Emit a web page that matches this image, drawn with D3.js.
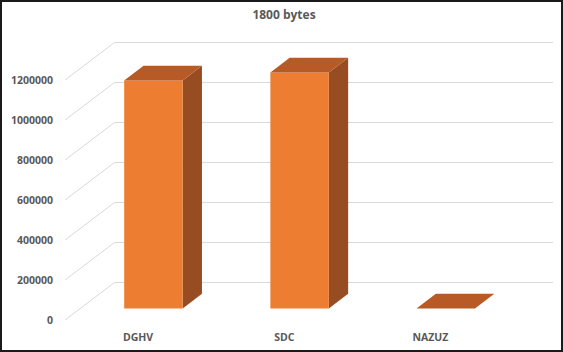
<!DOCTYPE html>
<html>
<head>
<meta charset="utf-8">
<script src="https://cdn.jsdelivr.net/npm/d3@7"></script>
<style>
  body { margin: 0; background: #fff; }
  svg text { font-family: "Open Sans", "Liberation Sans", sans-serif; font-weight: 700; fill: #595959; }
</style>
</head>
<body>
<div id="chart"></div>
<script>
// --- Data ---
const categories = ["DGHV", "SDC", "NAZUZ"];
const values = [1140000, 1180000, 0];
const tickValues = [0, 200000, 400000, 600000, 800000, 1000000, 1200000];
const title = "1800 bytes";

const width = 563, height = 352;

// --- 3D projection params ---
const depthX = 49.5, depthY = -37.5;   // full floor depth offset
const barFront = 0.31, barBack = 0.70; // bar position in depth (0 = front, 1 = back wall)

const svg = d3.select("#chart").append("svg")
  .attr("width", width)
  .attr("height", height);

svg.append("rect")
  .attr("x", 1).attr("y", 1)
  .attr("width", width - 2).attr("height", height - 2)
  .attr("fill", "#fff")
  .attr("stroke", "#1a1a1a")
  .attr("stroke-width", 2);

// front-plane scales
const x = d3.scaleBand()
  .domain(categories)
  .range([65, 553 - depthX])
  .paddingInner(0.6)
  .paddingOuter(0.3);

const y = d3.scaleLinear()
  .domain([0, 1200000])
  .range([320, 80]);

// project point at depth d
const px = (xv, d) => xv + depthX * d;
const py = (yv, d) => yv + depthY * d;

// --- Title ---
svg.append("text")
  .attr("x", 284)
  .attr("y", 19)
  .attr("text-anchor", "middle")
  .attr("font-size", 12)
  .text(title);

// --- Gridlines (side diagonal + back wall) ---
const grid = svg.append("g").attr("stroke", "#d9d9d9").attr("stroke-width", 1).attr("fill", "none");
tickValues.forEach(v => {
  const y0 = y(v);
  grid.append("path")
    .attr("d", `M${px(65, 0)},${py(y0, 0)} L${px(65, 1)},${py(y0, 1)} L553,${py(y0, 1)}`);
});

// --- Tick labels ---
svg.append("g").selectAll("text")
  .data(tickValues)
  .join("text")
  .attr("x", 53)
  .attr("y", d => y(d))
  .attr("dy", "0.35em")
  .attr("text-anchor", "end")
  .attr("font-size", 10.5)
  .text(d => d);

// --- Bars ---
const colFront = "#ed7d31", colTop = "#b85a26", colSide = "#974c22";
const bars = svg.append("g");
categories.forEach((c, i) => {
  const x0 = x(c), x1 = x(c) + x.bandwidth();
  const yb = y(0), yt = y(values[i]);
  const pts = arr => arr.map(p => p.join(",")).join(" ");
  const g = bars.append("g");
  if (values[i] > 0) {
    // side face
    g.append("polygon")
      .attr("points", pts([
        [px(x1, barFront), py(yb, barFront)], [px(x1, barBack), py(yb, barBack)],
        [px(x1, barBack), py(yt, barBack)], [px(x1, barFront), py(yt, barFront)]
      ]))
      .attr("fill", colSide);
    // front face
    g.append("polygon")
      .attr("points", pts([
        [px(x0, barFront), py(yb, barFront)], [px(x1, barFront), py(yb, barFront)],
        [px(x1, barFront), py(yt, barFront)], [px(x0, barFront), py(yt, barFront)]
      ]))
      .attr("fill", colFront);
  }
  // top face
  g.append("polygon")
    .attr("points", pts([
      [px(x0, barFront), py(yt, barFront)], [px(x1, barFront), py(yt, barFront)],
      [px(x1, barBack), py(yt, barBack)], [px(x0, barBack), py(yt, barBack)]
    ]))
    .attr("fill", colTop);
});

// --- Category labels ---
svg.append("g").selectAll("text")
  .data(categories)
  .join("text")
  .attr("x", d => x(d) + x.bandwidth() / 2)
  .attr("y", 337)
  .attr("dy", "0.35em")
  .attr("text-anchor", "middle")
  .attr("font-size", 10.5)
  .text(d => d);
</script>
</body>
</html>
